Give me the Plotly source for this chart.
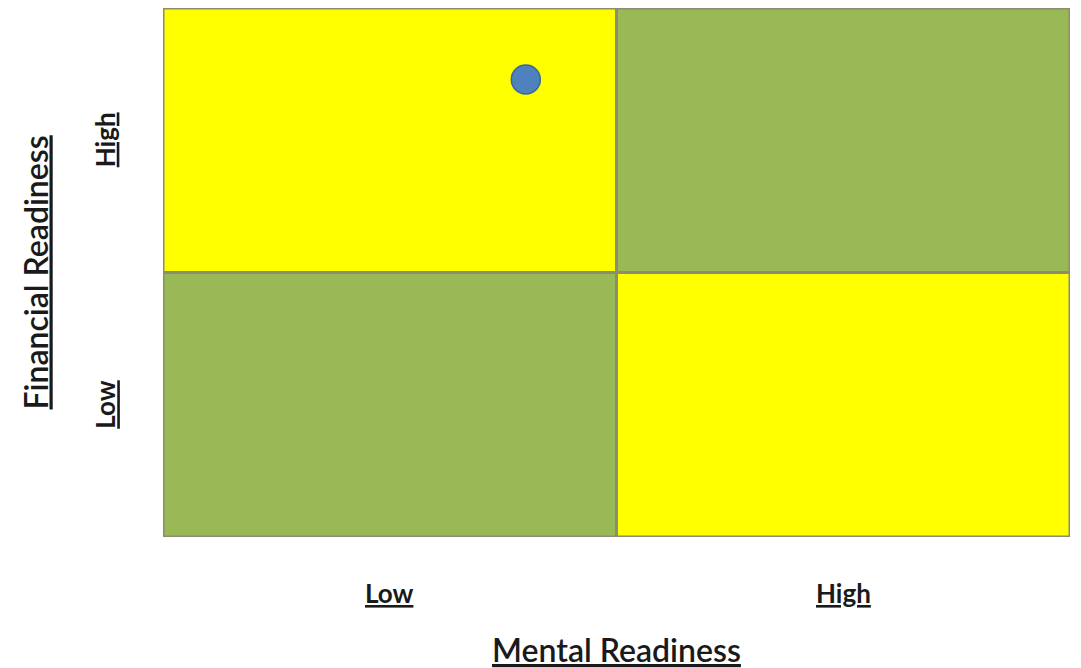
import plotly.graph_objects as go

# Quadrant definitions (data coordinates)
quad_x0 = [0, 1, 0, 1]
quad_x1 = [1, 2, 1, 2]
quad_y0 = [1, 1, 0, 0]
quad_y1 = [2, 2, 1, 1]
quad_colors = ["#FFFF00", "#98B955", "#98B955", "#FFFF00"]

# Point
point_x = [0.80]
point_y = [1.73]

# Labels
x_tick_vals = [0.5, 1.5]
x_tick_text = ["Low", "High"]
y_tick_vals = [0.5, 1.5]
y_tick_text = ["Low", "High"]
x_title = "Mental Readiness"
y_title = "Financial Readiness"

FONT = "Lato, 'Open Sans', sans-serif"
TXT = "#1a1a1a"

fig = go.Figure()

shapes = []
for x0, x1, y0, y1, c in zip(quad_x0, quad_x1, quad_y0, quad_y1, quad_colors):
    shapes.append(dict(type="rect", xref="x", yref="y", x0=x0, x1=x1, y0=y0, y1=y1,
                       fillcolor=c, line=dict(color="#8c8c70", width=3), layer="below"))

fig.add_trace(go.Scatter(
    x=point_x, y=point_y, mode="markers",
    marker=dict(size=29, color="#4F81BD", line=dict(color="#3A6696", width=1.5)),
    showlegend=False, hoverinfo="skip"))

annotations = []
for v, t in zip(x_tick_vals, x_tick_text):
    annotations.append(dict(x=v, xref="x", y=0, yref="paper", yshift=-56,
                            text=f"<b><u>{t}</u></b>", showarrow=False,
                            xanchor="center", yanchor="middle",
                            font=dict(family=FONT, size=26, color=TXT)))
for v, t in zip(y_tick_vals, y_tick_text):
    annotations.append(dict(x=0, xref="paper", xshift=-58, y=v, yref="y",
                            text=f"<b><u>{t}</u></b>", showarrow=False, textangle=-90,
                            xanchor="center", yanchor="middle",
                            font=dict(family=FONT, size=26, color=TXT)))
annotations.append(dict(x=0.5, xref="paper", y=0, yref="paper", yshift=-112,
                        text=f"<u>{x_title}</u>", showarrow=False,
                        xanchor="center", yanchor="middle",
                        font=dict(family=FONT, size=32, color=TXT, weight=600)))
annotations.append(dict(x=0, xref="paper", xshift=-128, y=0.5, yref="paper",
                        text=f"<u>{y_title}</u>", showarrow=False, textangle=-90,
                        xanchor="center", yanchor="middle",
                        font=dict(family=FONT, size=32, color=TXT, weight=600)))

fig.update_layout(
    width=1081, height=668,
    margin=dict(l=163, r=11, t=8, b=131),
    paper_bgcolor="white", plot_bgcolor="white",
    shapes=shapes, annotations=annotations,
    xaxis=dict(range=[0, 2], showgrid=False, zeroline=False, showticklabels=False,
               showline=False, fixedrange=True),
    yaxis=dict(range=[0, 2], showgrid=False, zeroline=False, showticklabels=False,
               showline=False, fixedrange=True),
)

fig.write_html("out.html")
